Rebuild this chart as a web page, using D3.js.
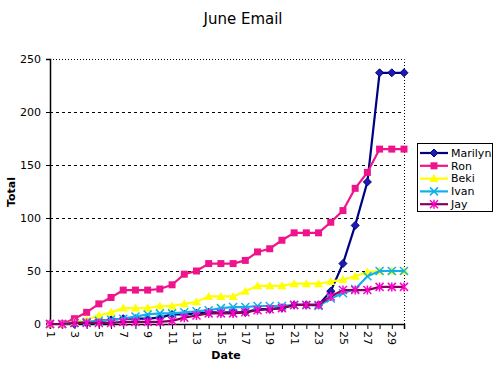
<!DOCTYPE html>
<html>
<head>
<meta charset="utf-8">
<script src="https://cdn.jsdelivr.net/npm/d3@7"></script>
<style>
  body { margin: 0; background: #fff; }
  svg { display: block; font-family: "DejaVu Sans", Verdana, sans-serif; }
</style>
</head>
<body>
<div class="chart"></div>
<script>
// June email totals per person
const dates = d3.range(1, 31);
const marilyn = [0,0,0,1,3,4,5,5,5,6,9,9,10,11,11,11,11,14,14,15,18,18,18,31,57,93,134,237,237,237];
const ron     = [0,0,5,11,19,25,32,32,32,33,37,47,50,57,57,57,60,68,71,79,86,86,86,96,107,128,143,165,165,165];
const beki    = [0,0,2,4,8,11,15,15,15,17,17,19,21,26,26,26,31,36,36,36,38,38,38,40,42,45,49,50,50,50];
const ivan    = [0,0,1,2,3,4,5,7,9,10,10,11,12,13,15,16,16,17,17,17,18,18,17,24,29,33,45,50,50,50];
const jay     = [0,0,1,1,1,1,2,2,2,2,3,6,8,10,10,10,11,13,14,15,18,18,18,26,32,32,32,35,35,35];
const yTicks = [0, 50, 100, 150, 200, 250];

const series = [
  { name: "Marilyn", values: marilyn, line: "#000080", fill: "#1c1cb0", shape: "diamond" },
  { name: "Ron",     values: ron,     line: "#f0148c", fill: "#f0148c", shape: "square" },
  { name: "Beki",    values: beki,    line: "#ffff00", fill: "#ffff00", shape: "triangle" },
  { name: "Ivan",    values: ivan,    line: "#12b0e8", fill: "#12b0e8", shape: "cross" },
  { name: "Jay",     values: jay,     line: "#8a0060", fill: "#ff00cc", shape: "star" }
];

const width = 500, height = 375;
const plotLeft = 50, plotRight = 404, plotTop = 59, plotBottom = 324;

const svg = d3.select(".chart").append("svg").attr("width", width).attr("height", height);

const x = d3.scaleLinear().domain([1, 30]).range([plotLeft, plotRight]);
const y = d3.scaleLinear().domain([0, 250]).range([plotBottom, plotTop]);

// title
svg.append("text").attr("x", 243).attr("y", 24).attr("text-anchor", "middle")
  .attr("font-size", 15).text("June Email");

// gridlines
svg.append("g").selectAll("line").data(yTicks.filter(d => d > 0 && d < 250)).enter().append("line")
  .attr("x1", plotLeft).attr("x2", plotRight).attr("y1", d => y(d) + 0.5).attr("y2", d => y(d) + 0.5)
  .attr("stroke", "#000").attr("stroke-dasharray", "3,3");

// top and right border dotted
svg.append("path")
  .attr("d", `M${plotLeft},${y(250) + 0.5}H${plotRight + 0.5}V${plotBottom}`)
  .attr("fill", "none").attr("stroke", "#000").attr("stroke-dasharray", "1,2");

// y axis
const yAxis = svg.append("g").attr("transform", `translate(${plotLeft},0)`)
  .call(d3.axisLeft(y).tickValues(yTicks).tickSize(4).tickPadding(5));
yAxis.select(".domain").attr("stroke", "#000").attr("stroke-width", 1.5);
yAxis.selectAll("text").attr("font-size", 11).attr("font-family", "DejaVu Sans, sans-serif");

// x axis
const xAxis = svg.append("g").attr("transform", `translate(0,${plotBottom})`)
  .call(d3.axisBottom(x).tickValues(dates).tickSize(5)
    .tickFormat(d => d % 2 === 1 ? d : ""));
xAxis.select(".domain").attr("stroke", "#000").attr("stroke-width", 1.5);
xAxis.selectAll("text").attr("font-size", 11).attr("font-family", "DejaVu Sans, sans-serif")
  .attr("transform", "rotate(90)").attr("text-anchor", "start")
  .attr("x", 7).attr("y", 0).attr("dy", "0.35em");

// axis titles
svg.append("text").attr("transform", "translate(15,192) rotate(-90)").attr("text-anchor", "middle")
  .attr("font-size", 11).attr("font-weight", "bold").text("Total");
svg.append("text").attr("x", 226).attr("y", 359).attr("text-anchor", "middle")
  .attr("font-size", 11).attr("font-weight", "bold").text("Date");

const line = d3.line().x((d, i) => x(dates[i])).y(d => y(d));

const symbolPath = {
  diamond: "M0,-4L4,0L0,4L-4,0Z",
  square: "M-3.5,-3.5H3.5V3.5H-3.5Z",
  triangle: "M0,-4.5L4.5,3.5H-4.5Z",
  cross: "M-4,-4L4,4M4,-4L-4,4",
  star: "M-4,-4L4,4M4,-4L-4,4M0,-4.5V4.5"
};

function drawMarker(g, s) {
  const open = s.shape === "cross" || s.shape === "star";
  g.append("path").attr("d", symbolPath[s.shape])
    .attr("fill", open ? "none" : s.fill)
    .attr("stroke", open ? s.fill : (s.shape === "diamond" ? s.line : "none"))
    .attr("stroke-width", open ? 1.5 : 1);
}

series.forEach(s => {
  const g = svg.append("g").attr("class", "series");
  g.append("path").datum(s.values).attr("d", line)
    .attr("fill", "none").attr("stroke", s.line).attr("stroke-width", 2.2);
  g.selectAll("g").data(s.values).enter().append("g")
    .attr("transform", (d, i) => `translate(${x(dates[i])},${y(d)})`)
    .each(function() { drawMarker(d3.select(this), s); });
});

// legend
const legend = svg.append("g");
legend.append("rect").attr("x", 417.5).attr("y", 143.5).attr("width", 75).attr("height", 68)
  .attr("fill", "#fff").attr("stroke", "#000");
series.forEach((s, i) => {
  const ly = 153 + i * 12.8;
  legend.append("line").attr("x1", 420).attr("x2", 448).attr("y1", ly).attr("y2", ly)
    .attr("stroke", s.line).attr("stroke-width", 2.2);
  const m = legend.append("g").attr("transform", `translate(434,${ly})`);
  drawMarker(m, s);
  legend.append("text").attr("x", 451).attr("y", ly).attr("dy", "0.35em")
    .attr("font-size", 11).text(s.name);
});
</script>
</body>
</html>
